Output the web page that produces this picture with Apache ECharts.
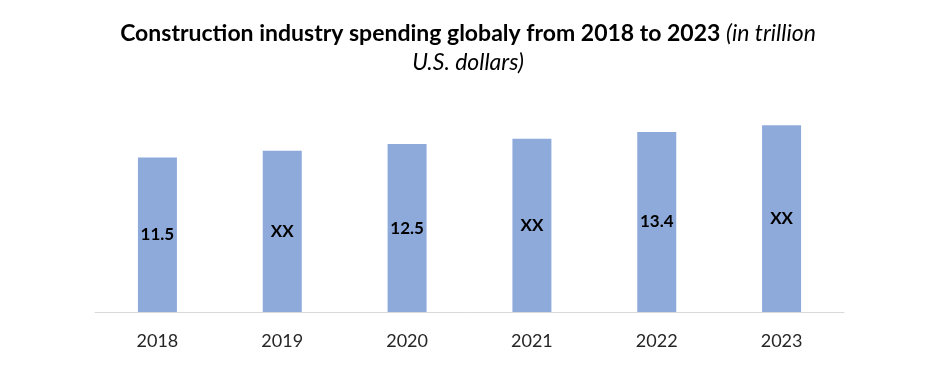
<!DOCTYPE html>
<html>
<head>
<meta charset="utf-8">
<script src="https://cdn.jsdelivr.net/npm/echarts@6/dist/echarts.min.js"></script>
<style>
  html, body { margin: 0; padding: 0; background: #fff; }
  #chart { width: 936px; height: 376px; }
</style>
</head>
<body>
<div id="chart"></div>
<script>
var years = ['2018', '2019', '2020', '2021', '2022', '2023'];
// bar heights (XX bars estimated)
var spending = [11.5, 12.0, 12.5, 12.9, 13.4, 13.9];
// labels as printed on the bars
var barLabels = ['11.5', 'XX', '12.5', 'XX', '13.4', 'XX'];

(function () {
    var chart = echarts.init(document.getElementById('chart'));
    var font = 'Lato, "Open Sans", sans-serif';

    var option = {
        animation: false,
        title: {
            left: 'center',
            top: 14,
            text: '{b|Construction industry spending globaly from 2018 to 2023 }{i|(in trillion}\n{i|U.S. dollars)}',
            textStyle: {
                rich: {
                    b: { fontFamily: font, fontWeight: 'bold', fontSize: 23, color: '#000', lineHeight: 29 },
                    i: { fontFamily: font, fontWeight: 'normal', fontStyle: 'italic', fontSize: 23, color: '#000', lineHeight: 29 }
                }
            }
        },
        grid: {
            left: 95,
            right: 92,
            top: 97,
            bottom: 64
        },
        xAxis: {
            type: 'category',
            data: years,
            axisLine: { lineStyle: { color: '#d9d9d9', width: 1 } },
            axisTick: { show: false },
            axisLabel: {
                margin: 20,
                fontFamily: font,
                fontSize: 18,
                color: '#262626'
            }
        },
        yAxis: {
            type: 'value',
            min: 0,
            max: 16,
            show: false,
            splitLine: { show: false }
        },
        series: [{
            type: 'bar',
            data: spending,
            barWidth: 39,
            itemStyle: { color: '#8eaadb' },
            label: {
                show: true,
                position: 'inside',
                fontFamily: font,
                fontWeight: 'bold',
                fontSize: 17,
                color: '#000',
                formatter: function (p) {
                    return barLabels[p.dataIndex];
                }
            }
        }]
    };

    chart.setOption(option);
    window.addEventListener('resize', function () {
        chart.resize();
    });
})();
</script>
</body>
</html>
